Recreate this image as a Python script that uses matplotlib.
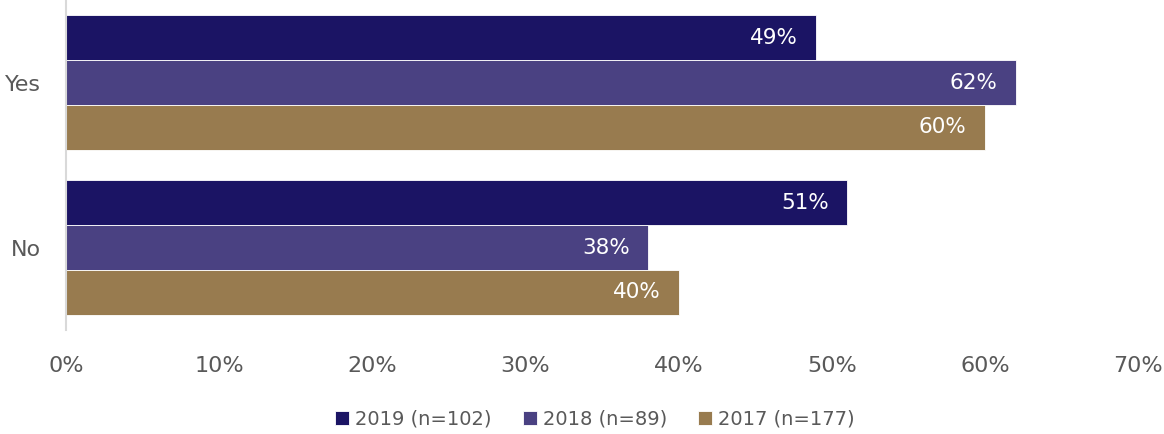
import matplotlib
matplotlib.use("Agg")
import matplotlib.pyplot as plt
import numpy as np
from matplotlib.ticker import FuncFormatter

plt.rcParams['font.family'] = ['DejaVu Sans']

categories = ["Yes", "No"]
series_names = ["2019 (n=102)", "2018 (n=89)", "2017 (n=177)"]
values_2019 = [49, 51]
values_2018 = [62, 38]
values_2017 = [60, 40]
series_values = [values_2019, values_2018, values_2017]
colors = ["#1B1464", "#4A4182", "#987B4F"]
x_ticks = [0, 10, 20, 30, 40, 50, 60, 70]

fig = plt.figure(figsize=(11.64, 4.34), dpi=100)
ax = fig.add_axes([0.0567, 0.2396, 0.921, 0.7604])

bar_h = 0.271
y = np.arange(len(categories))
for i, (name, vals, col) in enumerate(zip(series_names, series_values, colors)):
    pos = y + (i - 1) * bar_h
    ax.barh(pos, vals, height=bar_h, color=col, edgecolor="white",
            linewidth=0.6, label=name)
    for p, v in zip(pos, vals):
        ax.text(v - 1.2, p, f"{v}%", ha="right", va="center",
                color="white", fontsize=15.5)

ax.set_ylim(1.5, -0.5)
ax.set_xlim(0, 70)
ax.set_xticks(x_ticks)
ax.xaxis.set_major_formatter(FuncFormatter(lambda v, _: f"{v:.0f}%"))
ax.set_yticks(y)
ax.set_yticklabels(categories)
ax.tick_params(axis="x", length=0, labelsize=16, labelcolor="#595959", pad=19)
ax.tick_params(axis="y", length=0, labelsize=16, labelcolor="#595959", pad=18)

for s in ["top", "right", "bottom"]:
    ax.spines[s].set_visible(False)
ax.spines["left"].set_color("#D9D9D9")
ax.spines["left"].set_linewidth(1.5)

handles, labels = ax.get_legend_handles_labels()
fig.legend(handles, labels, loc="center", bbox_to_anchor=(0.511, 0.034),
           ncol=3, frameon=False, fontsize=14, labelcolor="#595959",
           handlelength=0.72, handleheight=0.72, handletextpad=0.3,
           columnspacing=1.6)

fig.savefig("out.png", dpi=100)
